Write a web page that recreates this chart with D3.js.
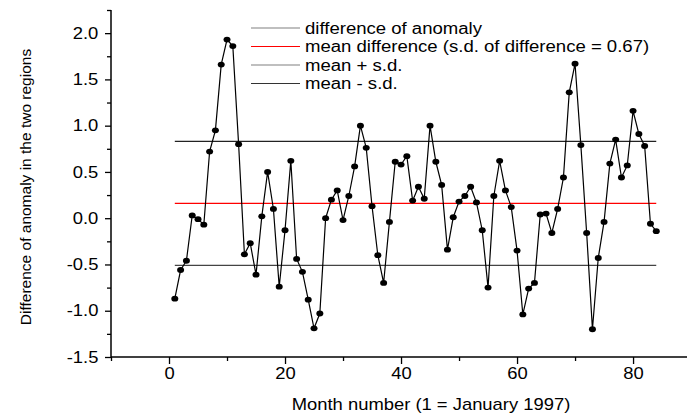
<!DOCTYPE html>
<html>
  <head>
    <meta charset="utf-8">
    <script src="https://d3js.org/d3.v7.min.js"></script>
    <style>
      body { margin: 0; background: #fff; }
      text { font-family: "Liberation Sans", Arial, sans-serif; }
    </style>
  </head>
  <body>
    <script type="text/javascript">
      // month number of each point (1 = January 1997)
      var months = d3.range(1, 85);

      // difference of anomaly
      var diffValues = [
        -0.87, -0.56, -0.46, 0.03, -0.01, -0.07, 0.72, 0.95, 1.66, 1.93,
        1.86, 0.80, -0.39, -0.27, -0.61, 0.02, 0.50, 0.10, -0.74, -0.13,
        0.62, -0.44, -0.58, -0.88, -1.19, -1.03, 0.00, 0.20, 0.30, -0.02,
        0.24, 0.56, 1.00, 0.76, 0.13, -0.40, -0.70, -0.04, 0.61, 0.58,
        0.67, 0.19, 0.34, 0.21, 1.00, 0.61, 0.36, -0.34, 0.01, 0.18,
        0.24, 0.34, 0.17, -0.13, -0.75, 0.24, 0.62, 0.30, 0.12, -0.35,
        -1.04, -0.76, -0.70, 0.04, 0.05, -0.16, 0.10, 0.44, 1.36, 1.67,
        0.79, -0.16, -1.20, -0.43, -0.04, 0.59, 0.85, 0.44, 0.57, 1.16,
        0.91, 0.78, -0.06, -0.14
      ];

      var meanDiff = 0.16;
      var sdDiff = 0.67;

      var xTicks = [0, 20, 40, 60, 80];
      var xMinorTicks = [-10, 10, 30, 50, 70];
      var yTicks = [-1.5, -1.0, -0.5, 0.0, 0.5, 1.0, 1.5, 2.0];
      var yMinorTicks = [-1.25, -0.75, -0.25, 0.25, 0.75, 1.25, 1.75, 2.25];

      var legendItems = [
        { label: "difference of anomaly", color: "#808080" },
        { label: "mean difference (s.d. of difference = 0.67)", color: "#ff0000" },
        { label: "mean + s.d.", color: "#808080" },
        { label: "mean - s.d.", color: "#333333" }
      ];

      function draw() {
          "use strict";
          var width = 687, height = 414;
          var mLeft = 111, mRight = 687, mTop = 10, mBottom = 357;
          var stretch = "scale(1.15,1)";

          var svg = d3.select("body").append("svg")
              .attr("width", width)
              .attr("height", height);

          var x = d3.scaleLinear().domain([-10, 89.3]).range([mLeft, mRight]);
          var y = d3.scaleLinear().domain([-1.5, 2.25]).range([mBottom, mTop]);

          // axes: major ticks with labels, minor ticks without
          // (plain hyphen for negatives, like the original)
          var xAxis = svg.append("g")
              .attr("transform", "translate(0," + mBottom + ")")
              .call(d3.axisBottom(x).tickValues(xTicks).tickSize(7)
                  .tickFormat(function (d) { return String(d); }));
          svg.append("g")
              .attr("transform", "translate(0," + mBottom + ")")
              .call(d3.axisBottom(x).tickValues(xMinorTicks).tickSize(4).tickFormat(""));

          var yAxis = svg.append("g")
              .attr("transform", "translate(" + mLeft + ",0)")
              .call(d3.axisLeft(y).tickValues(yTicks).tickSize(6)
                  .tickFormat(function (d) { return d.toFixed(1); }));
          svg.append("g")
              .attr("transform", "translate(" + mLeft + ",0)")
              .call(d3.axisLeft(y).tickValues(yMinorTicks).tickSize(4).tickFormat(""));

          svg.selectAll(".domain").remove();
          svg.append("line").attr("x1", mLeft).attr("x2", mRight)
              .attr("y1", mBottom).attr("y2", mBottom)
              .attr("stroke", "#000").attr("stroke-width", 1.5);
          svg.append("line").attr("x1", mLeft).attr("x2", mLeft)
              .attr("y1", mTop).attr("y2", mBottom)
              .attr("stroke", "#000").attr("stroke-width", 1.5);

          svg.selectAll(".tick line").attr("stroke-width", 1.3);
          xAxis.selectAll("text")
              .style("font-size", "16px")
              .attr("y", 11)
              .attr("dy", "0.71em")
              .attr("transform", stretch);
          yAxis.selectAll("text")
              .style("font-size", "16px")
              .attr("x", -11)
              .attr("transform", stretch);

          // reference lines: mean and mean +/- s.d.
          var refLines = [
            { v: meanDiff + sdDiff, color: "#222" },
            { v: meanDiff, color: "#ff0000" },
            { v: meanDiff - sdDiff, color: "#444" }
          ];
          svg.selectAll("line.ref")
              .data(refLines)
              .enter().append("line")
              .attr("class", "ref")
              .attr("x1", x(months[0]))
              .attr("x2", x(months[months.length - 1]))
              .attr("y1", function (d) { return y(d.v); })
              .attr("y2", function (d) { return y(d.v); })
              .attr("stroke", function (d) { return d.color; })
              .attr("stroke-width", 1.2);

          // series
          var pts = months.map(function (m, i) { return [m, diffValues[i]]; });
          svg.append("path")
              .datum(pts)
              .attr("fill", "none")
              .attr("stroke", "#000")
              .attr("stroke-width", 1.2)
              .attr("d", d3.line()
                  .x(function (d) { return x(d[0]); })
                  .y(function (d) { return y(d[1]); }));

          svg.selectAll("ellipse.pt")
              .data(pts)
              .enter().append("ellipse")
              .attr("class", "pt")
              .attr("cx", function (d) { return x(d[0]); })
              .attr("cy", function (d) { return y(d[1]); })
              .attr("rx", 3.5)
              .attr("ry", 2.9)
              .attr("fill", "#000");

          // legend
          var lg = svg.selectAll("g.legend")
              .data(legendItems)
              .enter().append("g")
              .attr("class", "legend")
              .attr("transform", function (d, i) { return "translate(251," + (28 + i * 18.5) + ")"; });
          lg.append("line")
              .attr("x1", 0).attr("x2", 49)
              .attr("stroke", function (d) { return d.color; })
              .attr("stroke-width", 1.2);
          lg.append("text")
              .attr("transform", "translate(54,0) scale(1.16,1)")
              .attr("dy", "0.35em")
              .style("font-size", "16px")
              .text(function (d) { return d.label; });

          // axis titles
          svg.append("text")
              .attr("transform", "translate(431,410) " + stretch)
              .attr("text-anchor", "middle")
              .style("font-size", "16px")
              .text("Month number (1 = January 1997)");

          svg.append("text")
              .attr("transform", "translate(31,187) rotate(-90)")
              .attr("text-anchor", "middle")
              .style("font-size", "15.5px")
              .text("Difference of anomaly in the two regions");
      }

      draw();
    </script>
  </body>
</html>
